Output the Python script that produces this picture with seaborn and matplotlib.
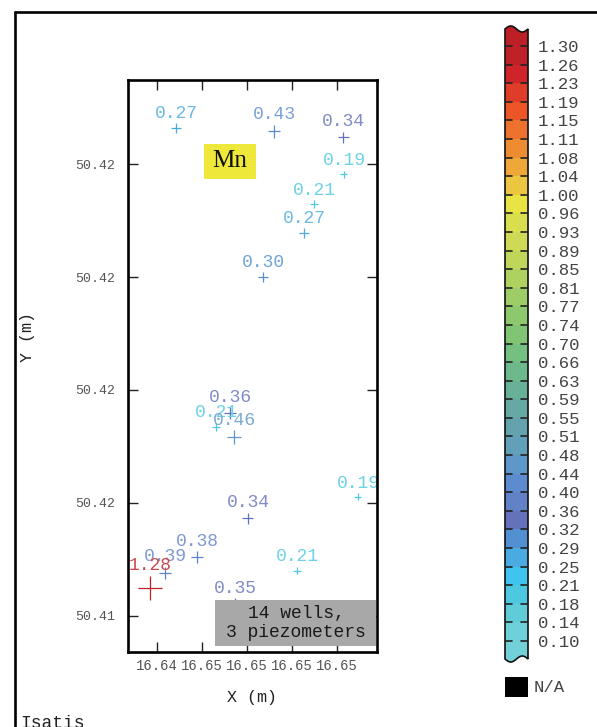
import numpy as np
import pandas as pd
import matplotlib
matplotlib.use("Agg")
import matplotlib.pyplot as plt
import seaborn as sns
from matplotlib.colors import ListedColormap, BoundaryNorm, to_rgb
from matplotlib.patches import Rectangle, Polygon
from matplotlib.lines import Line2D

# ---------------- data ----------------
well_x = [16.64484, 16.64920, 16.65227, 16.65231, 16.65098, 16.65053, 16.64871,
          16.64724, 16.64662, 16.64742, 16.65293, 16.64804, 16.64578, 16.64436,
          16.65022, 16.64369, 16.64747]
well_y = [50.42264, 50.42258, 50.42248, 50.42182, 50.42129, 50.42078, 50.42000,
          50.41759, 50.41735, 50.41717, 50.41611, 50.41573, 50.41504, 50.41476,
          50.41480, 50.41450, 50.41421]
mn_values = [0.27, 0.43, 0.34, 0.19, 0.21, 0.27, 0.30,
             0.36, 0.21, 0.46, 0.19, 0.34, 0.38, 0.39,
             0.21, 1.28, 0.35]

x_ticks = [16.644, 16.646, 16.648, 16.650, 16.652]
x_tick_labels = ["16.64", "16.65", "16.65", "16.65", "16.65"]
y_ticks = [50.414, 50.416, 50.418, 50.420, 50.422]
y_tick_labels = ["50.41", "50.42", "50.42", "50.42", "50.42"]

level_labels = ["0.10", "0.14", "0.18", "0.21", "0.25", "0.29", "0.32", "0.36",
                "0.40", "0.44", "0.48", "0.51", "0.55", "0.59", "0.63", "0.66",
                "0.70", "0.74", "0.77", "0.81", "0.85", "0.89", "0.93", "0.96",
                "1.00", "1.04", "1.08", "1.11", "1.15", "1.19", "1.23", "1.26", "1.30"]
band_colors = ["#6ED0D8", "#60CCD8", "#4CC8E0", "#3EC4EE", "#4AAAE2", "#5290D2",
               "#6472BC", "#6282C8", "#5C8CCF", "#5E98C8", "#62A0BA", "#64A2AE",
               "#66A8A4", "#68B098", "#6CBA8C", "#74C080", "#80C474", "#8EC86C",
               "#9ECC66", "#AED160", "#BFD65A", "#CEDA55", "#D8DE4E", "#E8E444",
               "#ECC640", "#EEA838", "#EE8C32", "#EE722E", "#EC5626", "#E03C2A",
               "#CF252A", "#BE2128"]
under_color = "#72D0D8"
over_color = "#BC2026"

df = pd.DataFrame({"x": well_x, "y": well_y, "mn": mn_values})

bounds = np.linspace(0.10, 1.30, len(level_labels))
cmap = ListedColormap(band_colors)
cmap.set_under(under_color)
cmap.set_over(over_color)
norm = BoundaryNorm(bounds, cmap.N)

# ---------------- figure ----------------
sns.set_style("white")
plt.rcParams["font.family"] = ["Liberation Mono", "DejaVu Sans Mono"]

W, H = 597, 727
fig = plt.figure(figsize=(W / 100, H / 100), dpi=100)
fig.patch.set_facecolor("white")

ax = fig.add_axes([128 / W, 1 - 652 / H, 249 / W, 572 / H])

size_min, size_max = 25, 300
sns.scatterplot(data=df, x="x", y="y", hue="mn", size="mn", palette=cmap,
                hue_norm=norm, sizes=(size_min, size_max),
                size_norm=(min(mn_values), max(mn_values)), marker="+",
                linewidth=0.9, legend=False, ax=ax, zorder=2)

vmin, vmax = min(mn_values), max(mn_values)
for xv, yv, v in zip(well_x, well_y, mn_values):
    s = size_min + (v - vmin) / (vmax - vmin) * (size_max - size_min)
    off = 7.2 + np.sqrt(s) / 2
    base = np.array(to_rgb(cmap(norm(v))))
    light = tuple(base * 0.82 + 0.18)
    t = ax.annotate(f"{v:.2f}", (xv, yv), xytext=(0, off), textcoords="offset points",
                    ha="center", va="center", fontsize=13, color=light,
                    zorder=3, annotation_clip=False)
    t.set_clip_on(True)

ax.set_xlim(16.64271, 16.65378)
ax.set_ylim(50.41336, 50.42349)
ax.set_xticks(x_ticks)
ax.set_xticklabels(x_tick_labels)
ax.set_yticks(y_ticks)
ax.set_yticklabels(y_tick_labels)
ax.tick_params(axis="both", direction="in", length=7.5, width=1.0, color="#222222",
               top=True, right=True, bottom=True, left=True, labelcolor="#555555")
ax.tick_params(axis="x", labelsize=10, pad=5)
ax.tick_params(axis="y", labelsize=9.5, pad=9)
for sp in ax.spines.values():
    sp.set_visible(True)
    sp.set_color("black")
    sp.set_linewidth(1.9)
    sp.set_zorder(4)
ax.set_xlabel("X (m)", fontsize=12, color="#222222")
ax.xaxis.set_label_coords(0.498, -0.0664)
ax.set_ylabel("Y (m)", fontsize=12, color="#222222")
ax.yaxis.set_label_coords(-0.372, 0.5507)

# Mn title box
ax.add_patch(Rectangle((0.3052, 0.8269), 0.2088, 0.0612, transform=ax.transAxes,
                       facecolor="#EDE83A", edgecolor="none", zorder=3))
ax.text(0.4096, 0.8584, "Mn", transform=ax.transAxes, ha="center", va="center",
        fontsize=18, family="Liberation Serif", color="#111111", zorder=4)

# wells box
ax.add_patch(Rectangle((0.3494, 0.0105), 0.6466, 0.0804, transform=ax.transAxes,
                       facecolor="#A8A8A8", edgecolor="none", zorder=2.2))
ax.text(0.6747, 0.0507, "14 wells,\n3 piezometers", transform=ax.transAxes,
        ha="center", va="center", fontsize=13, color="#1a1a1a", zorder=3,
        linespacing=1.2)

# ---------------- colorbar ----------------
def val(py):
    return 1.30 - (py - 46) / 18.594 * 0.0375

cax = fig.add_axes([505 / W, 1 - 670 / H, 23 / W, 650 / H])
cax.set_xlim(0, 1)
cax.set_ylim(val(670), val(20))
mids = (bounds[:-1] + bounds[1:]) / 2
cax.pcolormesh([0, 1], bounds, mids.reshape(-1, 1), cmap=cmap, norm=norm)

amp = 3 / 18.594 * 0.0375
xs = np.linspace(0, 1, 60)
top_wave = val(29) + amp * np.sin(2 * np.pi * xs)
bot_wave = val(659) + amp * np.sin(2 * np.pi * xs + np.pi)
top_poly = np.column_stack([np.r_[0, xs, 1], np.r_[bounds[-1], top_wave, bounds[-1]]])
bot_poly = np.column_stack([np.r_[0, xs, 1], np.r_[bounds[0], bot_wave, bounds[0]]])
cax.add_patch(Polygon(top_poly, closed=True, facecolor=over_color, edgecolor="none"))
cax.add_patch(Polygon(bot_poly, closed=True, facecolor=under_color, edgecolor="none"))
outline = np.vstack([
    np.column_stack([np.zeros(2), [bot_wave[0], top_wave[0]]]),
    np.column_stack([xs, top_wave]),
    np.column_stack([np.ones(2), [top_wave[-1], bot_wave[-1]]]),
    np.column_stack([xs[::-1], bot_wave[::-1]]),
])
cax.add_patch(Polygon(outline, closed=True, fill=False, edgecolor="#111111",
                      linewidth=1.2, clip_on=False))
for b in bounds:
    cax.plot([0, 0.3], [b, b], color="#222222", lw=1.2)
    cax.plot([0.7, 1], [b, b], color="#222222", lw=1.2)
cax.set_yticks(bounds)
cax.set_yticklabels(level_labels)
cax.set_xticks([])
cax.tick_params(axis="y", length=0, pad=7, labelsize=12.5, labelcolor="#444444",
                labelright=True, labelleft=False)
for sp in cax.spines.values():
    sp.set_visible(False)
cax.set_facecolor("none")

# N/A legend
fig.add_artist(Rectangle((505 / W, 1 - 697 / H), 23 / W, 20 / H,
                         transform=fig.transFigure, facecolor="black", edgecolor="none"))
fig.text(534 / W, 1 - 687 / H, "N/A", ha="left", va="center", fontsize=12.5,
         color="#444444")

# outer frame
fig.add_artist(Line2D([15 / W, 1.0], [1 - 12 / H, 1 - 12 / H], color="black",
                      lw=1.9, transform=fig.transFigure))
fig.add_artist(Line2D([15 / W, 15 / W], [0, 1 - 12 / H], color="black",
                      lw=1.9, transform=fig.transFigure))
fig.text(20 / W, -1 / H, "Isatis", ha="left", va="baseline", fontsize=13,
         color="#222222")

fig.savefig("out.png", dpi=100)
